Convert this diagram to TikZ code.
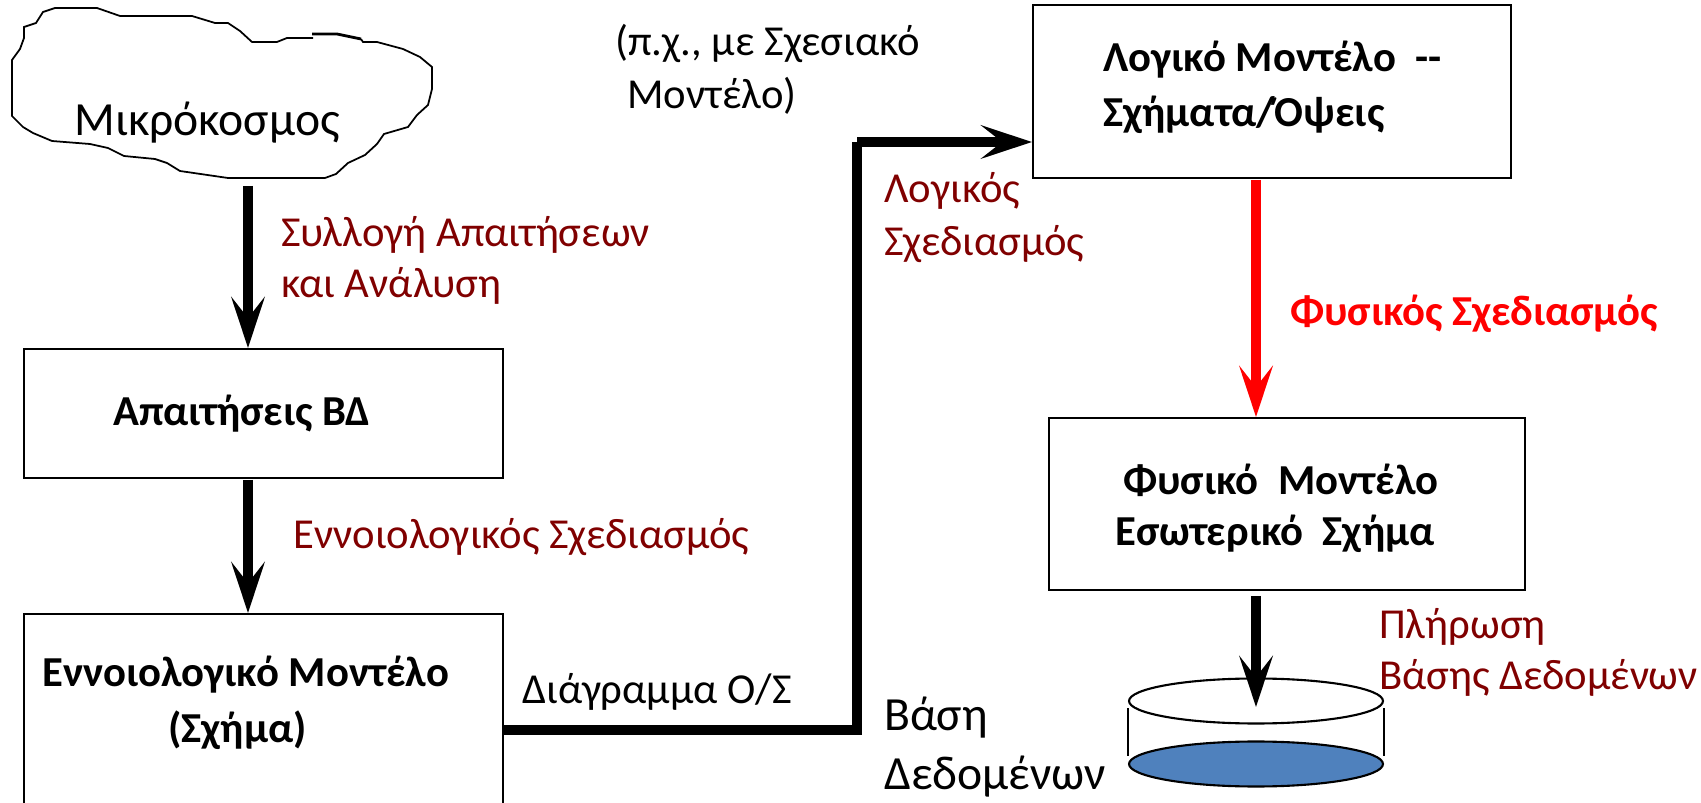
\documentclass[tikz,border=0pt]{standalone}
\usepackage{fontspec}
\setmainfont{Carlito}
\usetikzlibrary{arrows.meta,shapes.geometric}
\definecolor{dred}{HTML}{800000}
\definecolor{dbl}{HTML}{4F81BD}
\tikzset{
 px/.style={x=0.02cm,y=-0.02cm},
 boxn/.style={draw=black,line width=1.2pt,fill=white,anchor=north west,xshift=-0.02cm,yshift=0.02cm},
 lab/.style={anchor=west,font=\fontsize{24.3}{29}\selectfont,inner sep=0pt,text=black,yshift=-0.04cm},
 redlab/.style={lab,text=dred},
 biglab/.style={lab,font=\fontsize{27.1}{30}\selectfont},
 bold/.style={anchor=west,font=\fontsize{24.3}{29}\selectfont\bfseries,inner sep=0pt,yshift=-0.04cm},
 arr/.style={-{Stealth[length=29pt,width=19pt,inset=12pt]},line width=5.7pt},
 thickln/.style={line width=5.7pt},
 disc/.style={draw=black,line width=1.2pt,ellipse,minimum width=5.08cm,minimum height=0.9cm,inner sep=0pt},
}
\begin{document}
\begin{tikzpicture}[px]
\useasboundingbox (0,0) rectangle (1701,803);
\draw[line width=1pt] (361,39)--(363,42)--(377,42)--(403,49)--(420,57)--(432,67)--(432,89)--(428,105)--(417,115)--(408,127)--(384,134)--(377,144)--(365,155)--(348,163)--(336,174)--(325,178)--(228,178)--(180,171)--(167,163)--(155,159)--(124,156)--(108,148)--(90,144)--(52,141)--(33,133)--(23,127)--(12,116)--(12,60)--(20,49)--(24,38)--(24,27)--(36,23)--(43,12)--(55,8)--(97,8)--(120,16)--(192,16)--(215,23)--(228,23)--(240,31)--(252,42)--(277,42)--(287,38)--(313,38);
\draw[line width=1.6pt] (312,34)--(337,34)--(361,39);
\node[biglab] (mikro) at (74,121) {Μικρόκοσμος};
\node[boxn,minimum width=9.58cm,minimum height=2.58cm] (req) at (24,349) {};
\node[boxn,minimum width=9.58cm,minimum height=4.4cm] (con) at (24,614) {};
\node[boxn,minimum width=9.56cm,minimum height=3.46cm] (log) at (1033,5) {};
\node[boxn,minimum width=9.52cm,minimum height=3.44cm] (phy) at (1049,418) {};
\node[bold] (a) at (113,412) {Απαιτήσεις ΒΔ};
\node[bold] (b) at (42,673) {Εννοιολογικό Μοντέλο};
\node[bold] (c) at (168,728) {(Σχήμα)};
\node[bold] (d) at (1103,58) {Λογικό Μοντέλο\ \ -{}-};
\node[bold] (e) at (1103,113) {Σχήματα/Όψεις};
\node[bold] (f) at (1123,478) {Φυσικό\ \ Μοντέλο};
\node[bold] (g) at (1115,532) {Εσωτερικό\ \ Σχήμα};
\coordinate (cl) at (248,186);
\draw[arr] (cl)--(req.north -| cl);
\coordinate (rb) at (248,480);
\draw[arr] (rb)--(con.north -| rb);
\coordinate (ls) at (1256,180);
\draw[arr,red] (ls)--(phy.north -| ls);
\coordinate (t) at (857,142);
\draw[thickln] (con.east |- 0,730)--(857,730)--(t);
\draw[arr] (t)--(log.west |- t);
\node[disc,fill=white] (top) at (1256,701) {};
\draw[line width=1.2pt] (1128,708)--(1128,756);
\draw[line width=1.2pt] (1384,708)--(1384,756);
\node[disc,fill=dbl] (bot) at (1256,764) {};
\coordinate (pb) at (1256,596);
\draw[arr] (pb)--(1256,707);
\node[redlab] (l1) at (281,233) {Συλλογή Απαιτήσεων};
\node[redlab] (l2) at (281,284) {και Ανάλυση};
\node[redlab] (l3) at (293,535) {Εννοιολογικός Σχεδιασμός};
\node[redlab] (l4) at (884,189) {Λογικός};
\node[redlab] (l5) at (884,242) {Σχεδιασμός};
\node[lab,text=red,font=\fontsize{24.3}{29}\selectfont\bfseries] (l6) at (1290,312) {Φυσικός Σχεδιασμός};
\node[redlab] (l7) at (1379,625) {Πλήρωση};
\node[redlab] (l8) at (1379,676) {Βάσης Δεδομένων};
\node[lab] (n1) at (615,41) {(π.χ., με Σχεσιακό};
\node[lab] (n2) at (627,94) {Μοντέλο)};
\node[lab] (n3) at (522,690) {Διάγραμμα Ο/Σ};
\node[biglab] (n4) at (884,716) {Βάση};
\node[biglab] (n5) at (884,775) {Δεδομένων};
\end{tikzpicture}
\end{document}
